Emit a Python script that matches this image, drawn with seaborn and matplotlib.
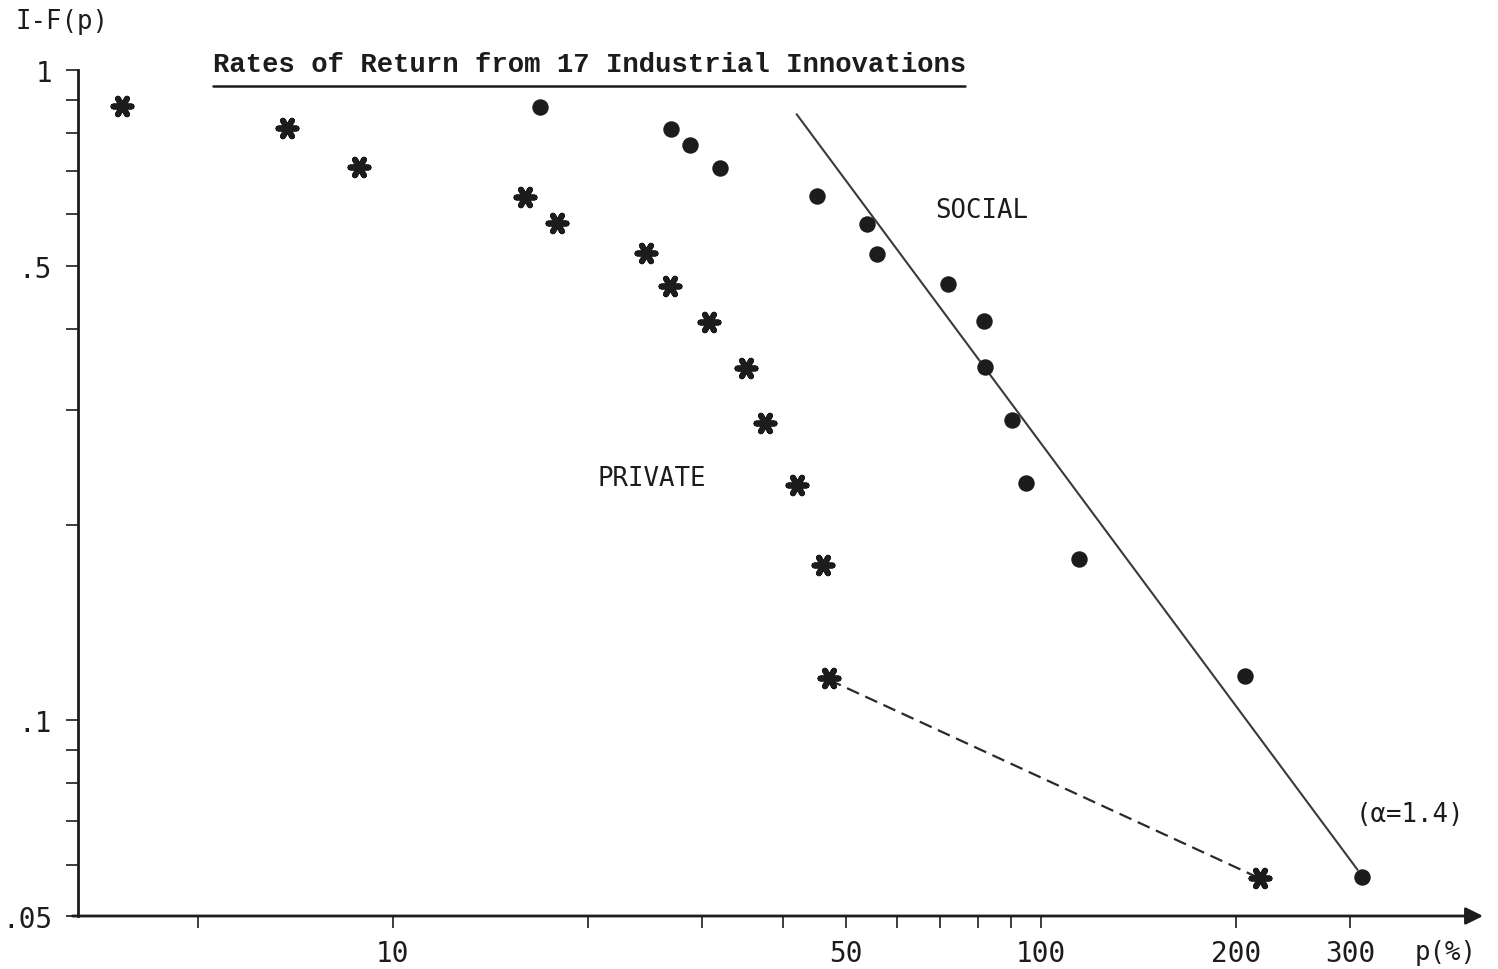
import matplotlib
matplotlib.use("Agg")
import matplotlib.pyplot as plt
from matplotlib.ticker import FixedLocator, FixedFormatter, NullLocator
from matplotlib.lines import Line2D
import seaborn as sns

# Social rates of return (%) and the share of innovations with a higher return, 1-F(p)
social_rate = [16.9, 26.9, 28.8, 32.0, 45.1, 54.0, 55.8, 71.8, 81.7, 82.0,
               90.2, 94.7, 114.5, 206.5, 312.9]
social_share = [0.878, 0.812, 0.766, 0.707, 0.641, 0.579, 0.522, 0.468, 0.411,
                0.349, 0.290, 0.232, 0.177, 0.117, 0.0575]

# Private rates of return (%)
private_rate = [3.82, 6.87, 8.86, 16.0, 17.9, 24.6, 26.8, 30.8, 35.1, 37.5,
                42.0, 46.1, 47.1, 217.8]
private_share = [0.880, 0.814, 0.709, 0.637, 0.582, 0.523, 0.466, 0.409, 0.348,
                 0.287, 0.230, 0.173, 0.116, 0.0573]

# Pareto line fitted to the social returns (alpha = 1.4)
fit_rate = [42.0, 308.0]
fit_share = [0.855, 0.0589]

# Dashed link across the gap in the private tail
tail_rate = [47.1, 213.8]
tail_share = [0.1154, 0.0576]

x_ticks = [5, 10, 20, 30, 40, 50, 60, 70, 80, 90, 100, 200, 300]
x_labels = ["", "10", "", "", "", "50", "", "", "", "", "100", "200", "300"]
y_ticks = [0.05, 0.06, 0.07, 0.08, 0.09, 0.1, 0.2, 0.3, 0.4, 0.5, 0.6, 0.7, 0.8, 0.9, 1.0]
y_labels = [".05", "", "", "", "", ".1", "", "", "", ".5", "", "", "", "", "1"]

INK = "#1c1c1c"

sns.set_style("ticks")
plt.rcParams["font.family"] = ["DejaVu Sans Mono", "DejaVu Sans"]

W, H = 1498, 970
fig = plt.figure(figsize=(W / 100, H / 100), dpi=100)
fig.patch.set_facecolor("white")
ax = fig.add_axes([78 / W, 1 - 917 / H, 1405 / W, 846 / H])
ax.set_xscale("log")
ax.set_yscale("log")

sns.lineplot(x=fit_rate, y=fit_share, ax=ax, color="#3a3a3a", linewidth=1.5)
sns.lineplot(x=tail_rate, y=tail_share, ax=ax, color="#2a2a2a", linewidth=1.6,
             linestyle=(0, (5.9, 3.1)))
sns.scatterplot(x=social_rate, y=social_share, ax=ax, marker="o", s=140,
                color=INK, edgecolor=INK, linewidth=0, zorder=4)
sns.scatterplot(x=private_rate, y=private_share, ax=ax, marker=(6, 2, 30), s=170,
                color=INK, linewidth=4.2, zorder=4)
ax.collections[-1].set_capstyle("round")

ax.set_xlim(3.27, 481)
ax.set_ylim(0.05, 1.0)

ax.xaxis.set_major_locator(FixedLocator(x_ticks))
ax.xaxis.set_major_formatter(FixedFormatter(x_labels))
ax.xaxis.set_minor_locator(NullLocator())
ax.yaxis.set_major_locator(FixedLocator(y_ticks))
ax.yaxis.set_major_formatter(FixedFormatter(y_labels))
ax.yaxis.set_minor_locator(NullLocator())

ax.tick_params(axis="x", direction="out", length=8.5, width=1.2, color=INK,
               labelsize=20, labelcolor=INK, pad=8)
ax.tick_params(axis="y", direction="out", length=8.5, width=1.2, color=INK,
               labelsize=20, labelcolor=INK, pad=10)

for side in ("top", "right", "bottom"):
    ax.spines[side].set_visible(False)
ax.spines["left"].set_linewidth(2.0)
ax.spines["left"].set_color(INK)

# horizontal axis drawn as an arrow
ax.annotate("", xy=(1.0, 0.0), xytext=(-0.004, 0.0), xycoords="axes fraction",
            textcoords="axes fraction",
            arrowprops=dict(arrowstyle="-|>", lw=2.0, color=INK,
                            mutation_scale=26, shrinkA=0, shrinkB=0))

# series labels
ax.text(0.610, 0.8345, "SOCIAL", transform=ax.transAxes, ha="left", va="center",
        fontsize=18.5, color=INK)
ax.text(0.3694, 0.5177, "PRIVATE", transform=ax.transAxes, ha="left", va="center",
        fontsize=18.5, color=INK)
ax.text(0.909, 0.1206, "(\u03b1=1.4)", transform=ax.transAxes, ha="left", va="center",
        fontsize=18.5, color=INK)

# axis names
fig.text(15 / W, 1 - 22 / H, "I-F(p)", ha="left", va="center", fontsize=18.5, color=INK)
fig.text(1415 / W, 1 - 953 / H, "p(%)", ha="left", va="center", fontsize=18.5, color=INK)

# underlined title
fig.text(213 / W, 1 - 65 / H, "Rates of Return from 17 Industrial Innovations",
         ha="left", va="center", fontsize=19.6, fontweight="bold", color=INK,
         family=["Liberation Mono", "DejaVu Sans Mono"])
fig.add_artist(Line2D([213 / W, 965 / W], [1 - 87 / H, 1 - 87 / H],
                      transform=fig.transFigure, color=INK, linewidth=1.8))

fig.savefig("out.png", dpi=100, facecolor="white")
